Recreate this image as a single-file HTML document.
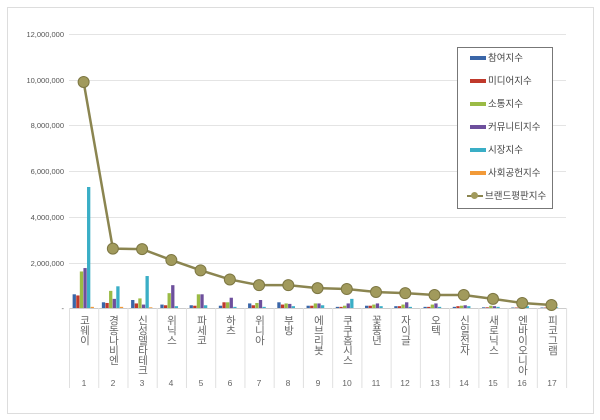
<!DOCTYPE html>
<html><head><meta charset="utf-8"><style>
body{margin:0;background:#fff;}
#c{position:relative;width:600px;height:420px;overflow:hidden;font-family:"Liberation Sans","Noto Sans CJK KR",sans-serif;}
.v{position:absolute;top:315px;writing-mode:vertical-lr;text-orientation:upright;font-size:10.5px;color:#666;letter-spacing:-0.5px;transform:translateX(-50%);line-height:11px;}
.n{position:absolute;top:378px;font-size:8.5px;color:#666;transform:translateX(-50%);}
.y{position:absolute;right:536px;font-size:7.5px;color:#555;}
.lg{position:absolute;left:457px;top:47px;width:94px;height:160px;border:1px solid #777;background:#fff;font-size:9.5px;color:#444;}
.lg div{position:absolute;left:12px;height:12px;line-height:12px;white-space:nowrap;}
.lg i{display:inline-block;width:16px;height:4px;margin-right:2px;vertical-align:middle;}
</style></head><body><div id="c">
<svg width="600" height="420" style="position:absolute;left:0;top:0">
<rect x="7.5" y="7.5" width="586" height="406" fill="none" stroke="#ddd"/>
<g stroke="#e4e4e4" stroke-width="1">
<line x1="69" x2="566" y1="34.5" y2="34.5"/><line x1="69" x2="566" y1="80.5" y2="80.5"/><line x1="69" x2="566" y1="125.5" y2="125.5"/><line x1="69" x2="566" y1="171.5" y2="171.5"/><line x1="69" x2="566" y1="217.5" y2="217.5"/><line x1="69" x2="566" y1="263.5" y2="263.5"/>
</g>
<line x1="69" x2="566" y1="308.5" y2="308.5" stroke="#ccc"/>
<g id="sep" stroke="#e0e0e0"></g>
<g id="bars"></g>
<polyline id="ln" fill="none" stroke="#8b8550" stroke-width="2.5"/>
<g id="dots"></g>
</svg>
<div class="y" style="top:30px">12,000,000</div>
<div class="y" style="top:76px">10,000,000</div>
<div class="y" style="top:121px">8,000,000</div>
<div class="y" style="top:167px">6,000,000</div>
<div class="y" style="top:213px">4,000,000</div>
<div class="y" style="top:259px">2,000,000</div>
<div class="y" style="top:304px">-</div>
<div class="v" style="left:84px">코웨이</div>
<div class="v" style="left:113px">경동나비엔</div>
<div class="v" style="left:142px">신성델타테크</div>
<div class="v" style="left:171px">위닉스</div>
<div class="v" style="left:201px">파세코</div>
<div class="v" style="left:230px">하츠</div>
<div class="v" style="left:259px">위니아</div>
<div class="v" style="left:288px">부방</div>
<div class="v" style="left:318px">에브리봇</div>
<div class="v" style="left:347px">쿠쿠홈시스</div>
<div class="v" style="left:376px">꽃풍년</div>
<div class="v" style="left:405px">자이글</div>
<div class="v" style="left:435px">오텍</div>
<div class="v" style="left:464px">신일전자</div>
<div class="v" style="left:493px">새로닉스</div>
<div class="v" style="left:522px">엔바이오니아</div>
<div class="v" style="left:552px">피코그램</div>
<div class="n" style="left:84px">1</div><div class="n" style="left:113px">2</div><div class="n" style="left:142px">3</div><div class="n" style="left:171px">4</div><div class="n" style="left:201px">5</div><div class="n" style="left:230px">6</div><div class="n" style="left:259px">7</div><div class="n" style="left:288px">8</div><div class="n" style="left:318px">9</div><div class="n" style="left:347px">10</div><div class="n" style="left:376px">11</div><div class="n" style="left:405px">12</div><div class="n" style="left:435px">13</div><div class="n" style="left:464px">14</div><div class="n" style="left:493px">15</div><div class="n" style="left:522px">16</div><div class="n" style="left:552px">17</div>
<div class="lg">
<div style="top:5px"><i style="background:#3a66a8"></i>참여지수</div>
<div style="top:28px"><i style="background:#c0392b"></i>미디어지수</div>
<div style="top:51px"><i style="background:#9bbb45"></i>소통지수</div>
<div style="top:74px"><i style="background:#6d4f9c"></i>커뮤니티지수</div>
<div style="top:97px"><i style="background:#3aaec6"></i>시장지수</div>
<div style="top:120px"><i style="background:#f29a38"></i>사회공헌지수</div>
<div style="top:143px;left:9px"><span style="display:inline-block;width:16px;height:2px;background:#8b8550;vertical-align:middle;position:relative;margin-right:2px"><span style="position:absolute;left:4px;top:-3px;width:7px;height:7px;border-radius:50%;background:#a19a5c"></span></span>브랜드평판지수</div>
</div>
</div>
<script>
var ns="http://www.w3.org/2000/svg";
function el(t,a,p){var e=document.createElementNS(ns,t);for(var k in a)e.setAttribute(k,a[k]);document.getElementById(p).appendChild(e);}
var x0=69,w=29.24,y0=308,s=22.83;
var cols=["#3a66a8","#c0392b","#9bbb45","#6d4f9c","#3aaec6","#f29a38"];
var B=[[.6,.55,1.6,1.75,5.3,.05],[.25,.22,.75,.4,.95,.05],[.35,.2,.42,.15,1.4,.03],[.15,.12,.65,1.0,.08,0],[.12,.1,.6,.6,.12,0],[.1,.25,.25,.45,.05,0],[.2,.12,.22,.35,.05,0],[.25,.15,.2,.18,.08,0],[.1,.1,.2,.2,.12,0],[.05,.05,.1,.2,.4,0],[.1,.1,.15,.2,.08,0],[.08,.08,.15,.25,.05,0],[.05,.05,.15,.2,.05,0],[.05,.08,.1,.12,.08,0],[.03,.03,.1,.08,.05,0],[.02,.02,.05,.05,.08,0],[.02,.02,.03,.04,.03,0]];
var L=[9.9,2.6,2.58,2.1,1.65,1.25,1.0,1.0,.87,.83,.7,.65,.57,.57,.4,.22,.13];
var pts=[];
for(var i=0;i<=17;i++)el("line",{x1:x0+i*w+.5,x2:x0+i*w+.5,y1:308,y2:388},"sep");
for(var i=0;i<17;i++){var c=x0+(i+.5)*w;
 for(var j=0;j<6;j++){var h=B[i][j]*s;el("rect",{x:c-11+j*3.6,y:y0-h,width:3.3,height:h,fill:cols[j]},"bars");}
 var y=y0-L[i]*s;pts.push(c+","+y);
 el("circle",{cx:c,cy:y,r:5.5,fill:"#a19a5c",stroke:"#7d7743","stroke-width":1},"dots");}
document.getElementById("ln").setAttribute("points",pts.join(" "));
</script>
</body></html>
